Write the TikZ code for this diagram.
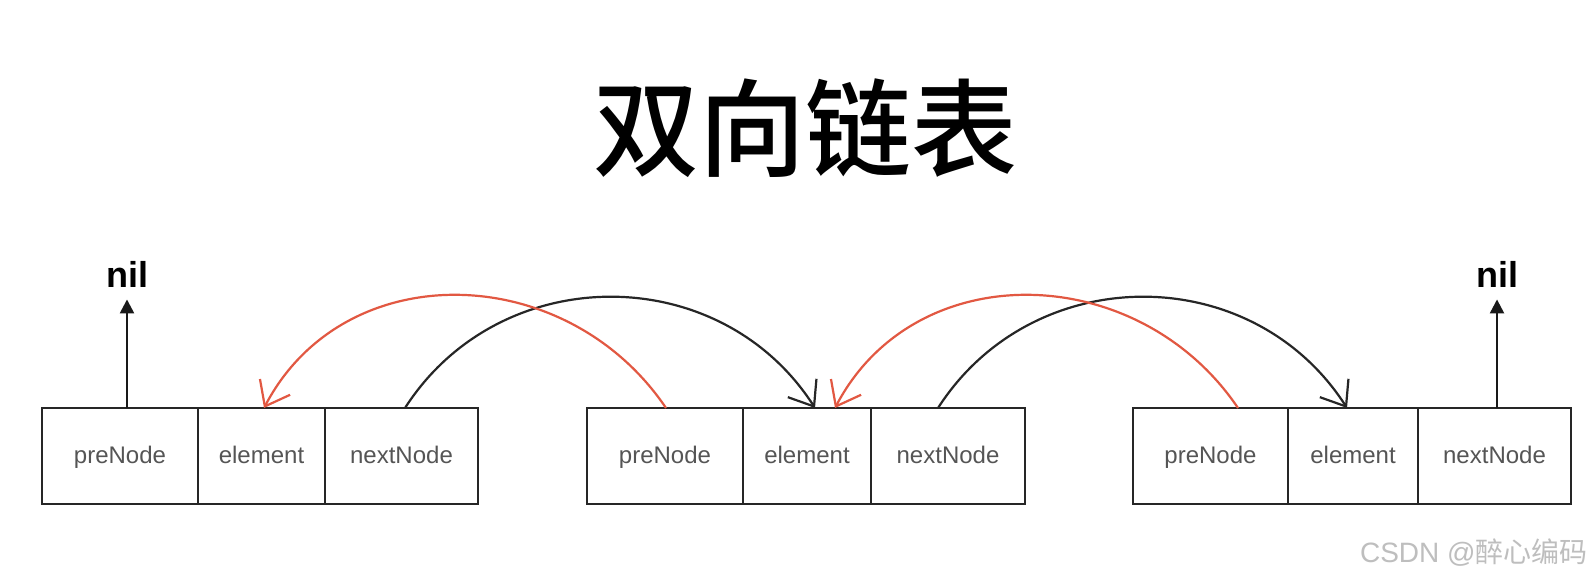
\documentclass[tikz,border=0pt]{standalone}
\usepackage{fontspec}
\setmainfont{Liberation Sans}
\newfontfamily\cjk{Noto Sans CJK SC}
\newfontfamily\cjktitle{Noto Sans CJK SC Medium}
\usetikzlibrary{arrows.meta,calc}
\definecolor{linkred}{RGB}{226,88,66}
\definecolor{celltext}{RGB}{85,85,85}
\definecolor{wm}{RGB}{190,190,190}
\tikzset{
  cell/.style={draw=black!85, line width=1.4pt, anchor=north west, minimum height=48pt,
    inner sep=0pt, outer sep=0pt, text=celltext, font=\fontsize{12}{14}\selectfont,
    text height=0.9em, text depth=0.2em},
  nextlink/.style={draw=black!85, line width=1.1pt, -{Straight Barb[length=11pt,width=17pt]}},
  prevlink/.style={draw=linkred, line width=1.1pt, -{Straight Barb[length=11pt,width=17pt]}},
  nilarrow/.style={draw=black!90, line width=1.2pt, -{Triangle[length=7pt,width=7pt]}, shorten >=6pt},
  niltext/.style={font=\bfseries\fontsize{18}{20}\selectfont, inner sep=0pt},
}
\begin{document}
\begin{tikzpicture}[x=0.5pt,y=-0.5pt]
\useasboundingbox[fill=white] (0,0) rectangle (1594,583);
% title
\node[font=\cjktitle\fontsize{53}{56}\selectfont] (title) at (805,128) {双向链表};
% list 1
\node[cell, minimum width=78pt] (p1) at (42,408) {preNode};
\node[cell, minimum width=63.5pt] (e1) at (198,408) {element};
\node[cell, minimum width=76.5pt] (n1) at (325,408) {nextNode};
% list 2
\node[cell, minimum width=78pt] (p2) at (587,408) {preNode};
\node[cell, minimum width=64pt] (e2) at (743,408) {element};
\node[cell, minimum width=77pt] (n2) at (871,408) {nextNode};
% list 3
\node[cell, minimum width=77.5pt] (p3) at (1133,408) {preNode};
\node[cell, minimum width=65pt] (e3) at (1288,408) {element};
\node[cell, minimum width=76.5pt] (n3) at (1418,408) {nextNode};
% nil labels
\node[niltext] (nil1) at (127,274) {nil};
\node[niltext] (nil2) at (1497,274) {nil};
\draw[nilarrow] (nil1.south |- p1.north) -- (nil1.south);
\draw[nilarrow] (nil2.south |- n3.north) -- (nil2.south);
% next links
\draw[nextlink] ($(n1.north west)+(80,0)$) .. controls +(95,-148) and +(-95,-148) .. ($(e2.north west)+(72,0)$);
\draw[nextlink] ($(n2.north west)+(67,0)$) .. controls +(95,-148) and +(-95,-148) .. ($(e3.north west)+(59,0)$);
% prev links
\draw[prevlink] ($(p2.north west)+(79,0)$) .. controls +(-100,-148) and +(80,-153) .. ($(e1.north west)+(66,0)$);
\draw[prevlink] ($(p3.north west)+(105,0)$) .. controls +(-100,-148) and +(80,-153) .. ($(e2.north west)+(92,0)$);
% watermark
\node[anchor=east, text=wm, font=\fontsize{14}{16}\selectfont, inner sep=0pt] (wm) at (1588,553) {CSDN @{\cjk 醉心编码}};
\end{tikzpicture}
\end{document}
